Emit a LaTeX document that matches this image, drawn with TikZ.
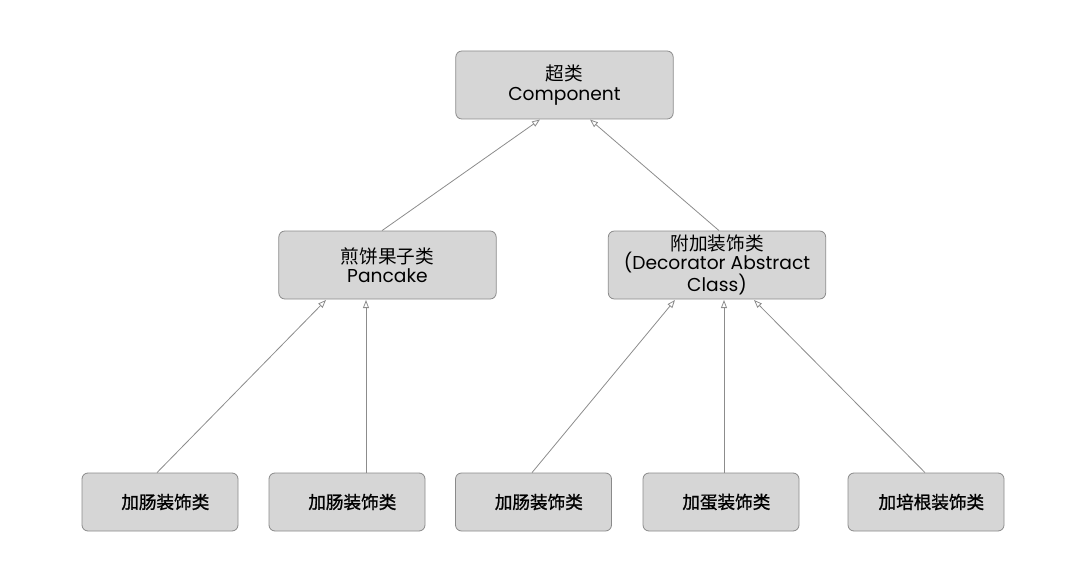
\documentclass[tikz,border=0pt]{standalone}
\usepackage{fontspec}
\setmainfont{Poppins}
\newfontfamily\cjk{Noto Sans CJK SC}
\newfontfamily\cjkb[FakeBold=1.2]{Noto Sans CJK SC}
\usetikzlibrary{arrows.meta}
\definecolor{boxfill}{HTML}{D6D6D6}
\definecolor{boxline}{HTML}{8A8A8A}
\definecolor{linkcol}{HTML}{8C8C8C}
\newcommand\leaftext[1]{\hspace*{8pt}{\cjkb #1}}
\begin{document}
\begin{tikzpicture}[x=0.75pt,y=-0.75pt,
  cls/.style={draw=boxline,fill=boxfill,rounded corners=4.5pt,line width=0.6pt,
    align=center,inner sep=0pt},
  big/.style={cls,minimum width=163pt,minimum height=51pt,font=\fontsize{14}{14.4}\selectfont},
  leaf/.style={cls,minimum width=117pt,minimum height=43.5pt,font=\fontsize{13.2}{14}\selectfont},
  inh/.style={draw=linkcol,line width=0.6pt,-{Triangle[open,length=6pt,width=4.5pt]}}]
\useasboundingbox (0,0) rectangle (1067,574);
\node[big] (comp) at (564.5,85) {{\cjk 超类}\\Component};
\node[big] (pan) at (387.5,265) {{\cjk 煎饼果子类}\\Pancake};
\node[big] (dec) at (717,265) {{\cjk 附加装饰类}\\(Decorator Abstract\\Class)};
\node[leaf] (b1) at (160,502) {\leaftext{加肠装饰类}};
\node[leaf] (b2) at (347,502) {\leaftext{加肠装饰类}};
\node[leaf] (b3) at (533.5,502) {\leaftext{加肠装饰类}};
\node[leaf] (b4) at (721,502) {\leaftext{加蛋装饰类}};
\node[leaf] (b5) at (926,502) {\leaftext{加培根装饰类}};
\coordinate (c1) at (540,119.5);
\coordinate (c2) at (590,119.5);
\coordinate (p1) at (326,300);
\coordinate (p2) at (366,300);
\coordinate (d1) at (675,300);
\coordinate (d2) at (724,300);
\coordinate (d3) at (754,300);
\draw[inh] (pan.north -| 382,0) -- (c1);
\draw[inh] (dec.north -| 719,0) -- (c2);
\draw[inh] (b1.north -| 157,0) -- (p1);
\draw[inh] (b2.north -| 366,0) -- (p2);
\draw[inh] (b3.north -| 532,0) -- (d1);
\draw[inh] (b4.north -| 724,0) -- (d2);
\draw[inh] (b5.north -| 925,0) -- (d3);
\end{tikzpicture}
\end{document}
